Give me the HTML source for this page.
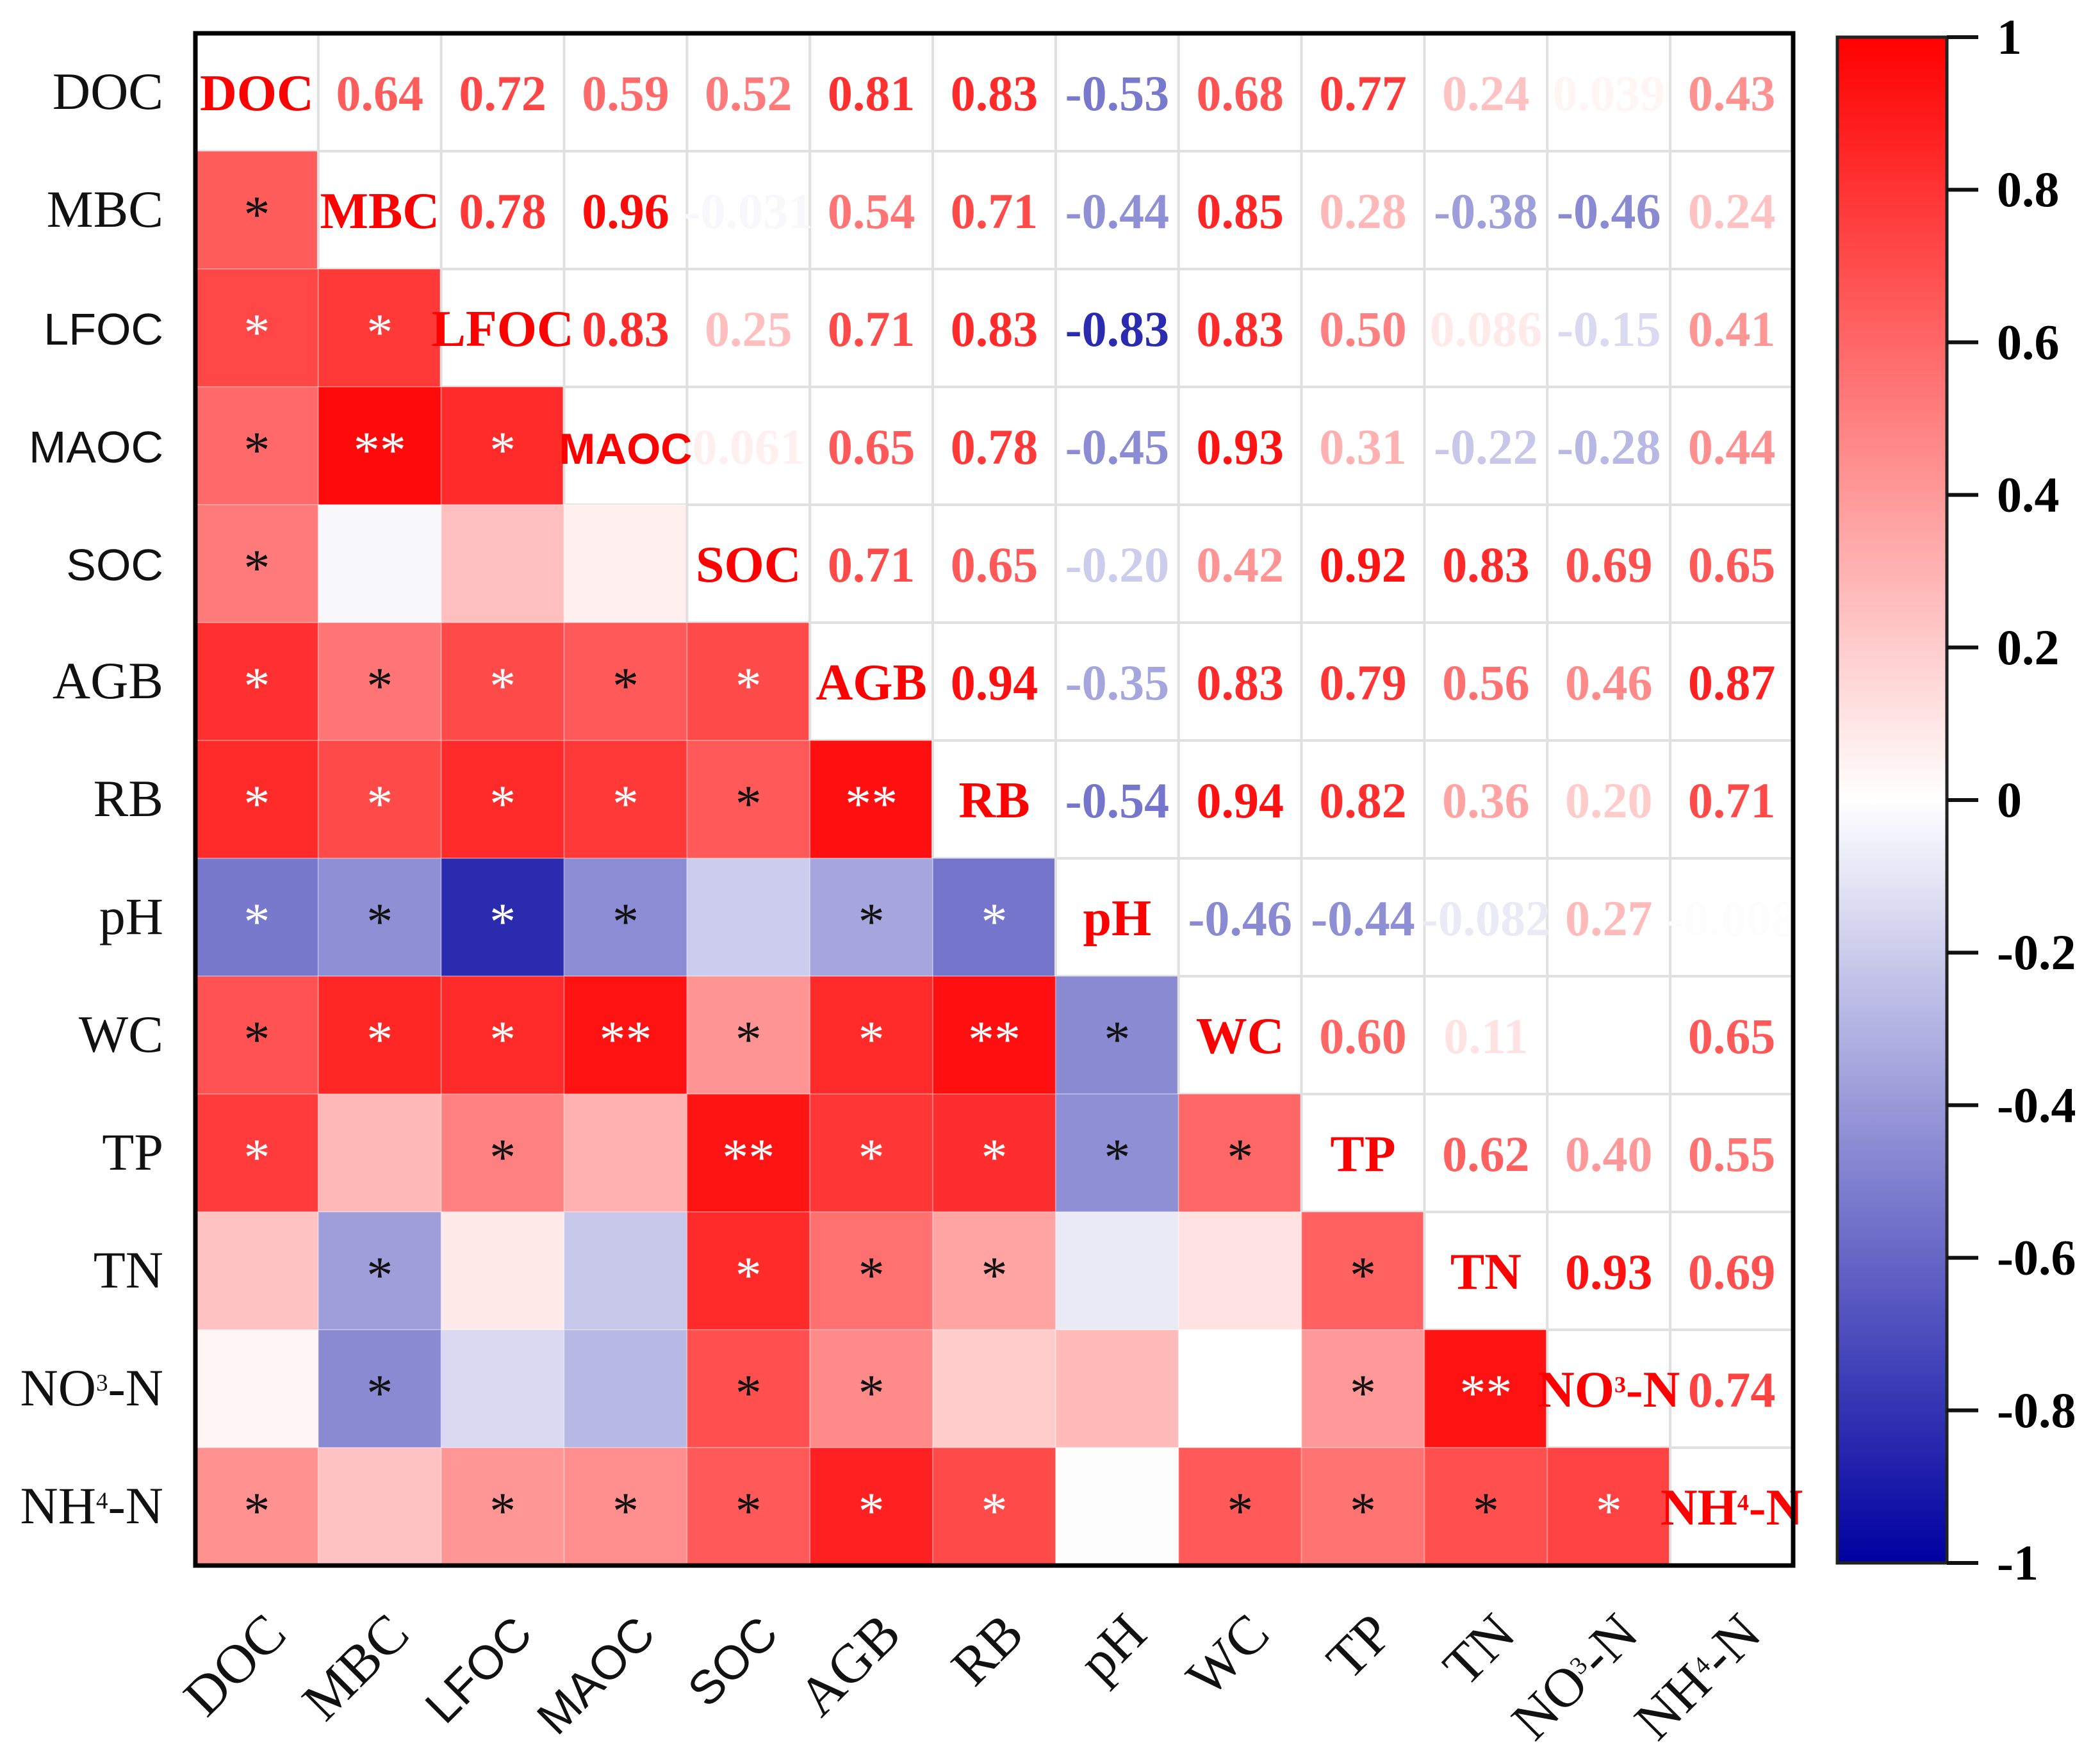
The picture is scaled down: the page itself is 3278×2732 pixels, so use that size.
<!DOCTYPE html>
<html><head><meta charset="utf-8"><style>
html,body{margin:0;padding:0;background:#fff;}
svg{display:block;}
</style></head><body>
<svg id="chart" xmlns="http://www.w3.org/2000/svg" width="3278" height="2732" viewBox="0 0 3278 2732">
<defs>
<linearGradient id="cbgrad" x1="0" y1="0" x2="0" y2="1">
<stop offset="0" stop-color="#ff0000"/>
<stop offset="0.5" stop-color="#ffffff"/>
<stop offset="1" stop-color="#0000a0"/>
</linearGradient>
</defs>
<rect x="0" y="0" width="3278" height="2732" fill="#fff"/>
<g id="cells"></g>
<g id="texts"></g>
<rect x="305" y="52" width="2494" height="2392" fill="none" stroke="#000" stroke-width="7"/>
<g id="rowlabels"></g>
<g id="collabels"></g>
<rect x="2868" y="58" width="171" height="2382" fill="url(#cbgrad)" stroke="#222" stroke-width="5"/>
<g id="cbticks"></g>
</svg>
<script>
const labels = ["DOC","MBC","LFOC","MAOC","SOC","AGB","RB","pH","WC","TP","TN","NO3-N","NH4-N"];
const sansLabels = ["LFOC","MAOC","SOC"];
// upper-triangle correlation values, row by row (i<j)
const r0 = [0.64,0.72,0.59,0.52,0.81,0.83,-0.53,0.68,0.77,0.24,0.039,0.43];
const r1 = [0.78,0.96,-0.031,0.54,0.71,-0.44,0.85,0.28,-0.38,-0.46,0.24];
const r2 = [0.83,0.25,0.71,0.83,-0.83,0.83,0.50,0.086,-0.15,0.41];
const r3 = [0.061,0.65,0.78,-0.45,0.93,0.31,-0.22,-0.28,0.44];
const r4 = [0.71,0.65,-0.20,0.42,0.92,0.83,0.69,0.65];
const r5 = [0.94,-0.35,0.83,0.79,0.56,0.46,0.87];
const r6 = [-0.54,0.94,0.82,0.36,0.20,0.71];
const r7 = [-0.46,-0.44,-0.082,0.27,-0.008];
const r8 = [0.60,0.11,0.00,0.65];
const r9 = [0.62,0.40,0.55];
const r10 = [0.93,0.69];
const r11 = [0.74];
const upper = [r0,r1,r2,r3,r4,r5,r6,r7,r8,r9,r10,r11];
// significance stars in lower triangle (row i, col j<i); "w" prefix = white star
const s1 = ["*"];
const s2 = ["w*","w*"];
const s3 = ["*","w**","w*"];
const s4 = ["*","","",""];
const s5 = ["w*","*","w*","*","w*"];
const s6 = ["w*","w*","w*","w*","*","w**"];
const s7 = ["w*","*","w*","*","","*","w*"];
const s8 = ["*","w*","w*","w**","*","w*","w**","*"];
const s9 = ["w*","","*","","w**","w*","w*","*","*"];
const s10 = ["","*","","","w*","*","*","","","*"];
const s11 = ["","*","","","*","*","","","","*","w**"];
const s12 = ["*","","*","*","*","w*","w*","","*","*","*","w*"];
const stars = [[],s1,s2,s3,s4,s5,s6,s7,s8,s9,s10,s11,s12];
const cbTicks = [1,0.8,0.6,0.4,0.2,0,-0.2,-0.4,-0.6,-0.8,-1];
const cbTickLabels = ["1","0.8","0.6","0.4","0.2","0","-0.2","-0.4","-0.6","-0.8","-1"];

const NS = "http://www.w3.org/2000/svg";
const X0 = 305, Y0 = 52, W = 2494, H = 2392, N = labels.length;
const cw = W / N, ch = H / N;
const xPos = j => X0 + j * cw;
const yPos = i => Y0 + i * ch;
const cbTop = 58, cbBot = 2440;
const cbY = v => cbTop + (1 - v) / 2 * (cbBot - cbTop);

function val(i, j){ return i < j ? upper[i][j - i - 1] : upper[j][i - j - 1]; }
function color(v){
  let r,g,b;
  if (v >= 0){ r = 255; g = Math.round(255*(1-v)); b = g; }
  else { const t = -v; r = Math.round(255*(1-t)); g = r; b = Math.round(255 - (255-160)*t); }
  return `rgb(${r},${g},${b})`;
}
function fmt(v){
  return Math.abs(v) < 0.1 && v !== 0 ? v.toString() : v.toFixed(2);
}
function mk(tag, attrs, parent){
  const e = document.createElementNS(NS, tag);
  for (const k in attrs) e.setAttribute(k, attrs[k]);
  parent.appendChild(e);
  return e;
}
function labelTspans(el, lab, size){
  const m = lab.match(/^(NO|NH)(\d)-N$/);
  if (m){
    const a = document.createElementNS(NS,"tspan"); a.textContent = m[1]; el.appendChild(a);
    const b = document.createElementNS(NS,"tspan"); b.textContent = m[2];
    b.setAttribute("font-size", Math.round(size*0.45)); b.setAttribute("dy", -size*0.28); el.appendChild(b);
    const c = document.createElementNS(NS,"tspan"); c.textContent = "-N"; c.setAttribute("dy", size*0.28); el.appendChild(c);
  } else el.textContent = lab;
}

const gCells = document.getElementById("cells");
const gTexts = document.getElementById("texts");
for (let i = 0; i < N; i++){
  for (let j = 0; j < N; j++){
    const cx = xPos(j) + cw/2, cy = yPos(i) + ch/2;
    if (i > j){
      const v = val(i,j);
      const r = mk("rect",{x:xPos(j),y:yPos(i),width:cw,height:ch,fill:color(v),stroke:"rgba(255,255,255,0.25)","stroke-width":2},gCells);
      
      
      const s = stars[i][j];
      if (s){
        const white = s[0] === "w";
        const t = mk("text",{x:cx,y:cy+34,"text-anchor":"middle","font-family":"Liberation Serif, serif","font-size":82,fill:white?"#fff":"#111"},gTexts);
        t.textContent = white ? s.slice(1) : s;
        
        
      }
    } else {
      const r = mk("rect",{x:xPos(j),y:yPos(i),width:cw,height:ch,fill:"#fff",stroke:"#e0e0e0","stroke-width":4},gCells);
      
      
      if (i === j){
        const sans = labels[i] === "MAOC";
        const t = mk("text",{x:cx,y:cy+28,"text-anchor":"middle","font-family":sans?"Liberation Sans, sans-serif":"Liberation Serif, serif","font-weight":"bold","font-size":sans?68:80,fill:"#ff0000"},gTexts);
        labelTspans(t, labels[i], 80);
        
        
      } else {
        const v = val(i,j);
        const t = mk("text",{x:cx,y:cy+28,"text-anchor":"middle","font-family":"Liberation Serif, serif","font-weight":"bold","font-size":78,fill:color(v)},gTexts);
        t.textContent = fmt(v);
        
        
      }
    }
  }
}
const gRow = document.getElementById("rowlabels");
const gCol = document.getElementById("collabels");
for (let i = 0; i < N; i++){
  const sans = sansLabels.includes(labels[i]);
  const size = sans ? 70 : 82;
  const t = mk("text",{x:255,y:yPos(i)+ch/2+26,"text-anchor":"end","font-family":sans?"Liberation Sans, sans-serif":"Liberation Serif, serif","font-size":size,fill:"#111"},gRow);
  labelTspans(t, labels[i], size);
  
  
  const cx = xPos(i) + cw/2 + 50, cy = 2555;
  const t2 = mk("text",{x:cx,y:cy,"text-anchor":"end","font-family":sans?"Liberation Sans, sans-serif":"Liberation Serif, serif","font-size":size+4,fill:"#111",transform:`rotate(-45 ${cx} ${cy})`},gCol);
  labelTspans(t2, labels[i], size+4);
  
  
}
const gCb = document.getElementById("cbticks");
cbTicks.forEach((v, k) => {
  const y = cbY(v);
  const l = mk("line",{x1:3039,x2:3088,y1:y,y2:y,stroke:"#111","stroke-width":6},gCb);
  
  
  const t = mk("text",{x:3117,y:y+26,"font-family":"Liberation Serif, serif","font-weight":"bold","font-size":78,fill:"#000"},gCb);
  t.textContent = cbTickLabels[k];
  
  
});
</script>
</body></html>
